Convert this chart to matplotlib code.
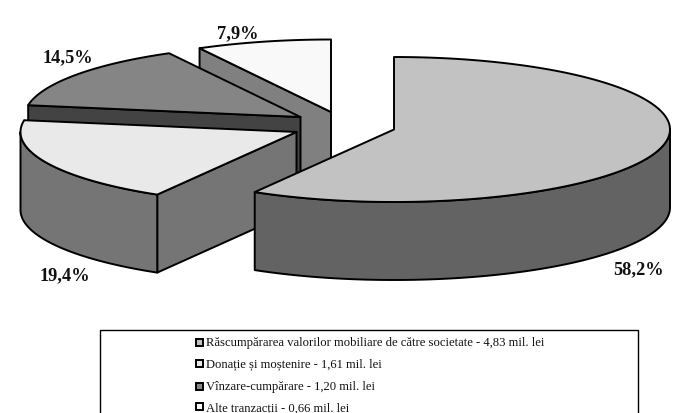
import numpy as np
import matplotlib
matplotlib.use("Agg")
import matplotlib.pyplot as plt
from matplotlib.patches import Polygon, Rectangle

plt.rcParams['font.family'] = ['Liberation Serif', 'DejaVu Serif']

categories = ["Răscumpărarea valorilor mobiliare de către societate - 4,83 mil. lei",
              "Donație și moștenire - 1,61 mil. lei",
              "Vînzare-cumpărare - 1,20 mil. lei",
              "Alte tranzacții - 0,66 mil. lei"]
shares = [58.2, 19.4, 14.5, 7.9]
labels = ["58,2%", "19,4%", "14,5%", "7,9%"]
top_colors = ["#c2c2c2", "#e9e9e9", "#858585", "#f9f9f9"]
wall_colors = ["#636363", "#757575", "#434343", "#808080"]
apexes = [(394, 130.5), (296.5, 133), (300.5, 118), (331, 113)]
label_pos = [(638.5, 269.5), (65, 276), (68, 57.5), (238, 34)]
legend_y = [343, 364, 387, 408]

RX, RY, DEPTH = 276, 72.5, 78

fig = plt.figure(figsize=(6.79, 4.14), dpi=100)
ax = fig.add_axes([0, 0, 1, 1])
ax.set_xlim(0, 679)
ax.set_ylim(414, 0)
ax.axis("off")

starts = 90 - np.cumsum([0] + shares[:-1]) * 3.6
ends = 90 - np.cumsum(shares) * 3.6
EDGE = dict(edgecolor="black", linewidth=1.4, joinstyle="round")


def arc(cx, cy, t0, t1):
    t = np.radians(np.linspace(t0, t1, 160))
    t = t - np.radians(0.9) * np.clip(-np.sin(t), 0, None)  # slight perspective skew
    return np.column_stack([cx + RX * np.cos(t), cy - RY * np.sin(t)])


# Draw from the back slice to the front one
for i in [3, 2, 1, 0]:
    cx, cy = apexes[i]
    t0, t1 = starts[i], ends[i]
    # radial wall along the slice's clockwise-leading edge; slice 0 hides it
    if i != 0:
        p = arc(cx, cy, t0, t0)[0]
        wall = [(cx, cy), tuple(p), (p[0], p[1] + DEPTH), (cx, cy + DEPTH)]
        ax.add_patch(Polygon(wall, closed=True, facecolor=wall_colors[i], **EDGE))
    # outer wall on the part of the rim facing the viewer
    front = None
    if i == 0:
        front = arc(cx, cy, t1, 0)
    elif i == 1:
        front = arc(cx, cy, -180, t0)
    if front is not None:
        lower = front[::-1] + np.array([0, DEPTH])
        ax.add_patch(Polygon(np.vstack([front, lower]), closed=True,
                             facecolor=wall_colors[i], **EDGE))
    # top face
    rim = arc(cx, cy, t0, t1)
    ax.add_patch(Polygon(np.vstack([[(cx, cy)], rim]), closed=True,
                         facecolor=top_colors[i], **EDGE))

for (x, y), s in zip(label_pos, labels):
    ax.text(x, y, s, ha="center", va="center", fontsize=13.2, fontweight="bold", color="#111111")

# Legend, cut by the bottom of the picture
ax.add_patch(Rectangle((100, 331), 538, 100, facecolor="white", edgecolor="black", linewidth=1))
for y, s, c in zip(legend_y, categories, top_colors):
    ax.add_patch(Rectangle((195.5, y - 3.5), 7, 7, facecolor=c, edgecolor="black", linewidth=1.4))
    ax.text(206.5, y, s, ha="left", va="center", fontsize=9.1, color="#111111")

fig.savefig("out.png", dpi=100, facecolor="white")
